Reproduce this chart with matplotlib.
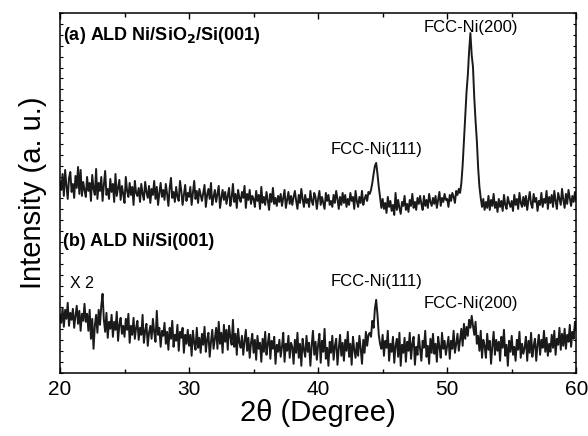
import numpy as np
import matplotlib
matplotlib.use('Agg')
import matplotlib.pyplot as plt
from matplotlib.ticker import MultipleLocator, NullFormatter

plt.rcParams['font.family'] = ['Liberation Sans', 'DejaVu Sans']

# 2theta grid, 20.0 .. 60.0 step 0.1
two_theta = np.round(np.arange(200, 601) / 10.0, 1)

# (a) ALD Ni/SiO2/Si(001), one row per degree
intensity_a = [
    191, 183, 199, 177, 203, 187, 174, 195, 201, 181,
    189, 175, 197, 185, 206, 179, 203, 177, 191, 183,
    176, 196, 182, 190, 172, 198, 184, 178, 204, 174,
    190, 182, 196, 172, 188, 202, 178, 184, 174, 194,
    181, 189, 171, 199, 177, 185, 193, 173, 187, 179,
    170, 196, 182, 176, 190, 178, 186, 168, 192, 180,
    177, 185, 171, 189, 179, 173, 191, 181, 175, 187,
    170, 184, 178, 192, 174, 186, 168, 180, 190, 176,
    183, 173, 189, 179, 167, 185, 195, 175, 181, 171,
    186, 176, 172, 192, 182, 168, 178, 188, 172, 180,
    176, 186, 168, 180, 192, 174, 182, 170, 184, 178,
    172, 180, 188, 166, 178, 184, 174, 190, 168, 176,
    183, 171, 179, 187, 165, 175, 183, 173, 181, 169,
    177, 185, 167, 175, 189, 171, 179, 165, 183, 175,
    171, 181, 175, 187, 165, 179, 173, 183, 169, 177,
    174, 166, 182, 172, 178, 164, 186, 170, 176, 168,
    181, 173, 163, 179, 171, 185, 169, 175, 167, 177,
    171, 179, 167, 175, 183, 165, 173, 181, 169, 177,
    168, 176, 182, 172, 164, 178, 170, 184, 174, 166,
    178, 170, 174, 166, 182, 172, 168, 180, 176, 164,
    174, 182, 168, 176, 170, 164, 180, 172, 178, 168,
    172, 166, 178, 170, 182, 174, 164, 176, 168, 180,
    170, 178, 166, 174, 168, 180, 172, 176, 164, 182,
    172, 166, 176, 170, 182, 168, 174, 178, 172, 181,
    179, 183, 190, 199, 207, 210, 199, 186, 176, 165,
    174, 164, 170, 160, 176, 166, 172, 162, 168, 158,
    180, 163, 173, 165, 159, 171, 167, 177, 163, 169,
    161, 173, 167, 179, 165, 171, 163, 175, 169, 177,
    169, 163, 177, 167, 173, 165, 179, 171, 167, 175,
    169, 177, 165, 173, 181, 167, 175, 171, 179, 173,
    174, 166, 178, 172, 180, 176, 170, 182, 178, 184,
    180, 190, 208, 232, 258, 281, 298, 322, 340, 318,
    306, 275, 252, 232, 205, 186, 175, 166, 174, 163,
    171, 165, 177, 163, 173, 167, 179, 165, 171, 161,
    174, 166, 172, 162, 178, 168, 164, 176, 170, 166,
    172, 162, 178, 168, 174, 164, 180, 170, 166, 176,
    167, 177, 163, 173, 181, 169, 165, 179, 171, 175,
    162, 172, 168, 180, 166, 174, 170, 182, 164, 176,
    170, 178, 166, 182, 172, 164, 180, 174, 168, 184,
    173, 165, 179, 169, 183, 175, 167, 177, 171, 181,
    172,
]

# (b) ALD Ni/Si(001), plotted x2
intensity_b = [
    58, 50, 65, 46, 63, 54, 70, 47, 60, 53,
    64, 45, 57, 67, 49, 62, 42, 59, 52, 69,
    51, 59, 42, 63, 34, 54, 24, 47, 58, 40,
    63, 48, 67, 79, 53, 41, 60, 35, 51, 44,
    58, 36, 51, 43, 61, 32, 48, 55, 39, 47,
    36, 54, 43, 59, 30, 47, 38, 55, 34, 45,
    52, 33, 45, 38, 58, 30, 42, 49, 27, 40,
    47, 34, 54, 41, 31, 62, 38, 45, 26, 42,
    37, 50, 29, 41, 23, 45, 34, 52, 26, 38,
    32, 48, 22, 41, 35, 45, 20, 38, 29, 43,
    27, 38, 17, 42, 30, 23, 45, 25, 35, 20,
    39, 28, 46, 21, 33, 40, 16, 31, 43, 24,
    34, 45, 24, 51, 29, 40, 20, 48, 31, 43,
    23, 47, 36, 28, 53, 26, 39, 18, 44, 30,
    25, 37, 18, 32, 43, 22, 35, 15, 30, 39,
    20, 33, 13, 37, 24, 30, 11, 34, 21, 41,
    18, 29, 39, 14, 32, 24, 36, 9, 28, 21,
    33, 16, 26, 40, 11, 29, 22, 37, 15, 30,
    26, 9, 33, 20, 40, 15, 29, 7, 34, 23,
    16, 37, 21, 30, 7, 27, 42, 18, 31, 13,
    28, 39, 10, 32, 21, 44, 14, 25, 7, 31,
    20, 37, 13, 27, 34, 8, 24, 38, 17, 30,
    12, 33, 22, 41, 16, 29, 8, 36, 23, 15,
    30, 17, 37, 24, 9, 33, 20, 41, 27, 38,
    40, 36, 52, 45, 64, 73, 58, 38, 29, 24,
    38, 17, 32, 25, 42, 12, 29, 21, 36, 10,
    27, 34, 16, 40, 7, 28, 20, 35, 11, 31,
    22, 40, 14, 29, 36, 8, 26, 18, 38, 24,
    12, 32, 25, 42, 16, 27, 9, 34, 20, 39,
    19, 29, 11, 36, 26, 15, 40, 24, 32, 18,
    27, 36, 14, 32, 24, 42, 20, 29, 39, 22,
    33, 44, 27, 49, 34, 46, 37, 53, 45, 57,
    47, 38, 51, 29, 37, 22, 42, 15, 33, 27,
    15, 39, 23, 32, 9, 27, 41, 18, 33, 22,
    31, 12, 36, 25, 43, 17, 28, 7, 32, 21,
    37, 18, 26, 12, 33, 23, 41, 15, 29, 19,
    25, 36, 12, 32, 20, 40, 16, 27, 34, 12,
    28, 38, 18, 33, 25, 42, 21, 35, 17, 29,
    21, 38, 25, 42, 18, 34, 28, 45, 23, 39,
    27, 44, 24, 38, 31, 48, 26, 41, 34, 51,
    43,
]

fig = plt.figure(figsize=(5.88, 4.36), dpi=100)
ax = fig.add_axes([0.102, 0.145, 0.878, 0.825])

ax.plot(two_theta, intensity_a, color='#1a1a1a', lw=1.4)
ax.plot(two_theta, intensity_b, color='#1a1a1a', lw=1.4)

ax.set_xlim(20, 60)
ax.set_ylim(0, 360)

# labels on the traces
ax.text(20.25, 338, '(a) ALD Ni/SiO$_\\mathbf{2}$/Si(001)', fontsize=13,
        fontweight='bold', va='center', ha='left')
ax.text(20.25, 131, '(b) ALD Ni/Si(001)', fontsize=13, fontweight='bold',
        va='center', ha='left')
ax.text(20.8, 89, 'X 2', fontsize=11.5, va='center', ha='left')
ax.text(51.8, 346, 'FCC-Ni(200)', fontsize=12, va='center', ha='center')
ax.text(44.5, 223, 'FCC-Ni(111)', fontsize=12, va='center', ha='center')
ax.text(44.5, 91, 'FCC-Ni(111)', fontsize=12, va='center', ha='center')
ax.text(51.8, 69, 'FCC-Ni(200)', fontsize=12, va='center', ha='center')

ax.set_xlabel('2θ (Degree)', fontsize=21, labelpad=0)
ax.set_ylabel('Intensity (a. u.)', fontsize=21, labelpad=6)

ax.xaxis.set_major_locator(MultipleLocator(10))
ax.xaxis.set_minor_locator(MultipleLocator(5))
ax.yaxis.set_major_locator(MultipleLocator(360 / 33))
ax.yaxis.set_major_formatter(NullFormatter())
ax.tick_params(axis='x', which='major', direction='in', length=4, width=1,
               top=True, labelsize=15, pad=5)
ax.tick_params(axis='x', which='minor', direction='in', length=3, width=1,
               top=True)
ax.tick_params(axis='y', which='major', direction='in', length=2.5, width=0.8,
               right=True)
for s in ax.spines.values():
    s.set_linewidth(1.1)

fig.savefig('out.png', dpi=100)
